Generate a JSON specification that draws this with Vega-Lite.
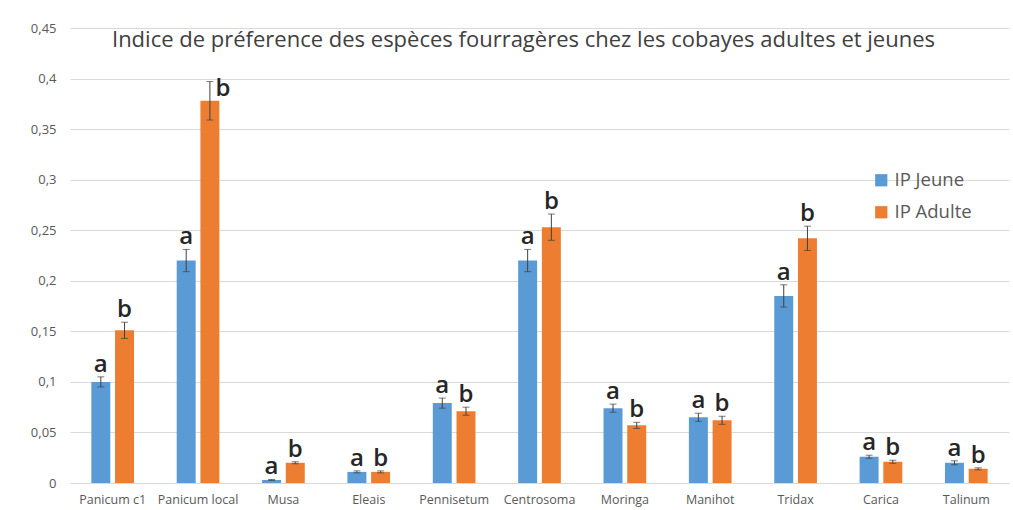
{
  "$schema": "https://vega.github.io/schema/vega-lite/v6.json",
  "width": 939,
  "height": 455,
  "autosize": {"type": "none"},
  "padding": {"left": 70, "top": 28, "right": 4, "bottom": 27},
  "background": "white",
  "config": {"view": {"stroke": null}, "font": "Open Sans"},
  "title": {
    "text": "Indice de préference des espèces fourragères chez les cobayes adultes et jeunes",
    "fontSize": 22,
    "fontWeight": "normal",
    "color": "#404040",
    "font": "Open Sans",
    "offset": -30,
    "dx": -16
  },
  "data": {
    "values": [
      {"espece": "Panicum c1", "groupe": "IP Jeune", "valeur": 0.100, "lo": 0.095, "hi": 0.105, "lettre": "a"},
      {"espece": "Panicum c1", "groupe": "IP Adulte", "valeur": 0.151, "lo": 0.143, "hi": 0.159, "lettre": "b"},
      {"espece": "Panicum local", "groupe": "IP Jeune", "valeur": 0.220, "lo": 0.209, "hi": 0.231, "lettre": "a"},
      {"espece": "Panicum local", "groupe": "IP Adulte", "valeur": 0.378, "lo": 0.359, "hi": 0.397, "lettre": "b"},
      {"espece": "Musa", "groupe": "IP Jeune", "valeur": 0.003, "lo": 0.0025, "hi": 0.0035, "lettre": "a"},
      {"espece": "Musa", "groupe": "IP Adulte", "valeur": 0.020, "lo": 0.019, "hi": 0.021, "lettre": "b"},
      {"espece": "Eleais", "groupe": "IP Jeune", "valeur": 0.011, "lo": 0.010, "hi": 0.012, "lettre": "a"},
      {"espece": "Eleais", "groupe": "IP Adulte", "valeur": 0.011, "lo": 0.010, "hi": 0.012, "lettre": "b"},
      {"espece": "Pennisetum", "groupe": "IP Jeune", "valeur": 0.079, "lo": 0.074, "hi": 0.084, "lettre": "a"},
      {"espece": "Pennisetum", "groupe": "IP Adulte", "valeur": 0.071, "lo": 0.067, "hi": 0.075, "lettre": "b"},
      {"espece": "Centrosoma", "groupe": "IP Jeune", "valeur": 0.220, "lo": 0.209, "hi": 0.231, "lettre": "a"},
      {"espece": "Centrosoma", "groupe": "IP Adulte", "valeur": 0.253, "lo": 0.240, "hi": 0.266, "lettre": "b"},
      {"espece": "Moringa", "groupe": "IP Jeune", "valeur": 0.074, "lo": 0.070, "hi": 0.078, "lettre": "a"},
      {"espece": "Moringa", "groupe": "IP Adulte", "valeur": 0.057, "lo": 0.054, "hi": 0.060, "lettre": "b"},
      {"espece": "Manihot", "groupe": "IP Jeune", "valeur": 0.065, "lo": 0.061, "hi": 0.069, "lettre": "a"},
      {"espece": "Manihot", "groupe": "IP Adulte", "valeur": 0.062, "lo": 0.058, "hi": 0.066, "lettre": "b"},
      {"espece": "Tridax", "groupe": "IP Jeune", "valeur": 0.185, "lo": 0.174, "hi": 0.196, "lettre": "a"},
      {"espece": "Tridax", "groupe": "IP Adulte", "valeur": 0.242, "lo": 0.230, "hi": 0.254, "lettre": "b"},
      {"espece": "Carica", "groupe": "IP Jeune", "valeur": 0.026, "lo": 0.0245, "hi": 0.0275, "lettre": "a"},
      {"espece": "Carica", "groupe": "IP Adulte", "valeur": 0.021, "lo": 0.0195, "hi": 0.0225, "lettre": "b"},
      {"espece": "Talinum", "groupe": "IP Jeune", "valeur": 0.020, "lo": 0.018, "hi": 0.022, "lettre": "a"},
      {"espece": "Talinum", "groupe": "IP Adulte", "valeur": 0.014, "lo": 0.013, "hi": 0.015, "lettre": "b"}
    ]
  },
  "encoding": {
    "x": {
      "field": "espece",
      "type": "nominal",
      "sort": null,
      "scale": {"paddingInner": 0.5, "paddingOuter": 0.25},
      "axis": {
        "title": null,
        "ticks": false,
        "labelAngle": 0,
        "labelFontSize": 12.5,
        "labelColor": "#595959",
        "labelPadding": 10,
        "domainColor": "#d9d9d9"
      }
    },
    "xOffset": {
      "field": "groupe",
      "type": "nominal",
      "sort": ["IP Jeune", "IP Adulte"],
      "scale": {"paddingInner": 0.2, "paddingOuter": 0}
    }
  },
  "layer": [
    {
      "mark": {"type": "bar"},
      "encoding": {
        "y": {
          "field": "valeur",
          "type": "quantitative",
          "scale": {"domain": [0, 0.45], "nice": false},
          "axis": {
            "title": null,
            "values": [0, 0.05, 0.1, 0.15, 0.2, 0.25, 0.3, 0.35, 0.4, 0.45],
            "domain": false,
            "ticks": false,
            "labelPadding": 14,
            "labelFontSize": 13,
            "labelColor": "#595959",
            "gridColor": "#d9d9d9",
            "labelExpr": "replace(format(datum.value, '.2~f'), '.', ',')"
          }
        },
        "color": {
          "field": "groupe",
          "type": "nominal",
          "scale": {"domain": ["IP Jeune", "IP Adulte"], "range": ["#5B9BD5", "#ED7D31"]},
          "legend": {
            "title": null,
            "orient": "none",
            "legendX": 802,
            "legendY": 143,
            "labelFontSize": 18.5,
            "labelColor": "#595959",
            "symbolType": "square",
            "symbolSize": 150,
            "symbolStrokeWidth": 0,
            "rowPadding": 13,
            "padding": 0,
            "labelOffset": 4
          }
        }
      }
    },
    {
      "mark": {"type": "rule", "color": "#404040", "strokeWidth": 1},
      "encoding": {
        "y": {"field": "lo", "type": "quantitative"},
        "y2": {"field": "hi"}
      }
    },
    {
      "mark": {"type": "tick", "color": "#404040", "size": 7, "thickness": 1, "orient": "horizontal"},
      "encoding": {"y": {"field": "lo", "type": "quantitative"}}
    },
    {
      "mark": {"type": "tick", "color": "#404040", "size": 7, "thickness": 1, "orient": "horizontal"},
      "encoding": {"y": {"field": "hi", "type": "quantitative"}}
    },
    {
      "transform": [{"filter": "!(datum.espece == 'Panicum local' && datum.groupe == 'IP Adulte')"}],
      "mark": {"type": "text", "fontSize": 24, "fontWeight": 600, "color": "#262626", "baseline": "alphabetic", "dy": -5},
      "encoding": {
        "y": {"field": "hi", "type": "quantitative"},
        "text": {"field": "lettre"}
      }
    },
    {
      "transform": [{"filter": "datum.espece == 'Panicum local' && datum.groupe == 'IP Adulte'"}],
      "mark": {"type": "text", "fontSize": 24, "fontWeight": 600, "color": "#262626", "baseline": "alphabetic", "dx": 13, "dy": 14},
      "encoding": {
        "y": {"field": "hi", "type": "quantitative"},
        "text": {"field": "lettre"}
      }
    }
  ]
}
